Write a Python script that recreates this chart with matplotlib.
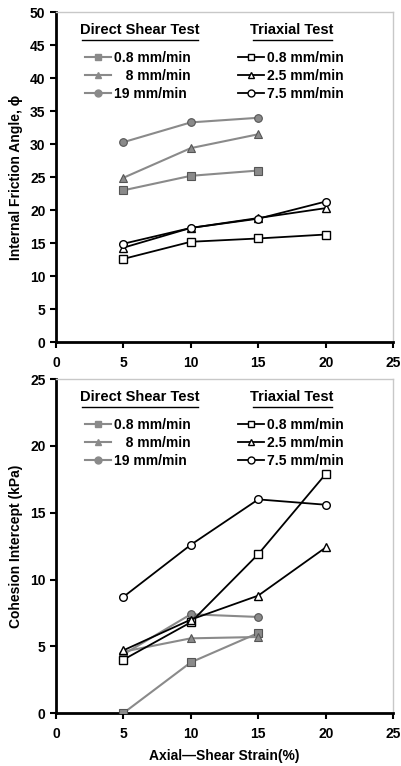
import matplotlib
matplotlib.use('Agg')
import matplotlib.pyplot as plt
from matplotlib.lines import Line2D

plt.rcParams['font.family'] = ['Liberation Sans', 'DejaVu Sans']
plt.rcParams['font.weight'] = 'bold'
plt.rcParams['axes.labelweight'] = 'bold'

strain_ds = [5, 10, 15]
strain_tx = [5, 10, 15, 20]

# friction angle (deg)
phi_ds_08 = [23.0, 25.2, 26.0]
phi_ds_8 = [24.9, 29.4, 31.5]
phi_ds_19 = [30.3, 33.3, 34.0]
phi_tx_08 = [12.6, 15.2, 15.7, 16.3]
phi_tx_25 = [14.3, 17.3, 18.8, 20.3]
phi_tx_75 = [14.9, 17.3, 18.7, 21.3]

# cohesion intercept (kPa)
c_ds_08 = [0.0, 3.8, 6.0]
c_ds_8 = [4.6, 5.6, 5.7]
c_ds_19 = [4.4, 7.4, 7.2]
c_tx_08 = [4.0, 6.8, 11.9, 17.9]
c_tx_25 = [4.7, 7.0, 8.8, 12.4]
c_tx_75 = [8.7, 12.6, 16.0, 15.6]

ds_labels = ['0.8 mm/min', '   8 mm/min', '19 mm/min']
tx_labels = ['0.8 mm/min', '2.5 mm/min', '7.5 mm/min']

GREY = '#8a8a8a'
ds_markers = ['s', '^', 'o']
tx_markers = ['s', '^', 'o']


def draw(ax, ds, tx, ymax, ystep, ylabel):
    for vals, m in zip(ds, ds_markers):
        ax.plot(strain_ds, vals, color=GREY, lw=1.5, marker=m, ms=5.5,
                mfc=GREY, mec='#555555', mew=0.8, zorder=3)
    for vals, m in zip(tx, tx_markers):
        ax.plot(strain_tx, vals, color='black', lw=1.3, marker=m, ms=5.5,
                mfc='white', mec='black', mew=1.0, zorder=4)

    ax.set_xlim(0, 25)
    ax.set_ylim(0, ymax)
    ax.set_xticks(range(0, 26, 5))
    ax.set_yticks(range(0, ymax + 1, ystep))
    ax.tick_params(direction='out', length=4, width=1.5, labelsize=10)
    ax.tick_params(axis='x', pad=6)
    for s in ['left', 'bottom']:
        ax.spines[s].set_linewidth(2)
    for s in ['top', 'right']:
        ax.spines[s].set_color('#c8c8c8')
        ax.spines[s].set_linewidth(1)
    ax.set_ylabel(ylabel, fontsize=10, labelpad=5)

    # group headings, underlined
    hy = 0.926
    ax.text(0.25, hy, 'Direct Shear Test', transform=ax.transAxes,
            ha='center', va='bottom', fontsize=10.5, fontweight='bold')
    ax.text(0.70, hy, 'Triaxial Test', transform=ax.transAxes,
            ha='center', va='bottom', fontsize=10.5, fontweight='bold')
    ax.plot([0.078, 0.42], [hy - 0.01] * 2, color='black', lw=1,
            transform=ax.transAxes, clip_on=False)
    ax.plot([0.585, 0.82], [hy - 0.01] * 2, color='black', lw=1,
            transform=ax.transAxes, clip_on=False)

    h_ds = [Line2D([], [], color=GREY, lw=1.5, marker=m, ms=5, mfc=GREY,
                   mec=GREY) for m in ds_markers]
    h_tx = [Line2D([], [], color='black', lw=1.3, marker=m, ms=5, mfc='white',
                   mec='black') for m in tx_markers]
    leg1 = ax.legend(h_ds, ds_labels, loc='upper left',
                     bbox_to_anchor=(0.085, 0.884), frameon=False,
                     fontsize=10, handlelength=1.9, handletextpad=0.2,
                     labelspacing=0.3, borderaxespad=0, borderpad=0)
    ax.add_artist(leg1)
    ax.legend(h_tx, tx_labels, loc='upper left',
              bbox_to_anchor=(0.54, 0.884), frameon=False,
              fontsize=10, handlelength=1.9, handletextpad=0.2,
              labelspacing=0.3, borderaxespad=0, borderpad=0)


fig = plt.figure(figsize=(4.02, 7.66), dpi=100)
ax1 = fig.add_axes([0.139, 0.5535, 0.839, 0.4305])
ax2 = fig.add_axes([0.139, 0.069, 0.839, 0.436])

draw(ax1, [phi_ds_08, phi_ds_8, phi_ds_19], [phi_tx_08, phi_tx_25, phi_tx_75],
     50, 5, 'Internal Friction Angle, ϕ')
draw(ax2, [c_ds_08, c_ds_8, c_ds_19], [c_tx_08, c_tx_25, c_tx_75],
     25, 5, 'Cohesion Intercept (kPa)')
ax2.set_xlabel('Axial—Shear Strain(%)', fontsize=10, labelpad=6)

fig.savefig('out.png', dpi=100)
